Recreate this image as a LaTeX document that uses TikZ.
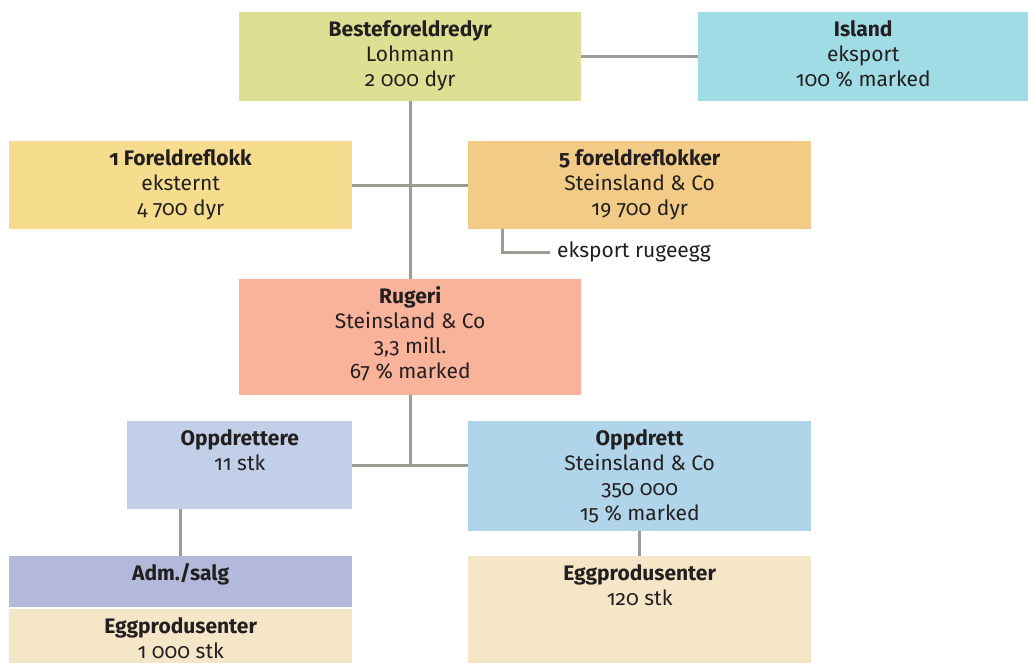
\documentclass[tikz,border=0pt]{standalone}
\usepackage{fontspec}
\setmainfont[RawFeature=+onum]{Fira Sans}
\usetikzlibrary{positioning}
\definecolor{ink}{HTML}{231F20}
\definecolor{linegray}{HTML}{9C9C94}
\definecolor{cbeste}{HTML}{DDE093}
\definecolor{cisland}{HTML}{A0DCE5}
\definecolor{cflokka}{HTML}{F5DD8D}
\definecolor{cflokkb}{HTML}{F2CB87}
\definecolor{crugeri}{HTML}{F9B39A}
\definecolor{coppdr}{HTML}{C1CFE8}
\definecolor{coppdrett}{HTML}{B0D5EA}
\definecolor{cadm}{HTML}{B3B9DA}
\definecolor{cegg}{HTML}{F6E6C8}

\begin{document}
\begin{tikzpicture}[x=1pt,y=-1pt,
    box/.style={draw=none,inner sep=0pt,anchor=north west},
    txt/.style={font=\fontsize{21}{25}\selectfont,text=ink,align=center,inner sep=0pt,anchor=north},
    link/.style={draw=linegray,line width=3pt}]
  \useasboundingbox (0,0) rectangle (1028,663);
  \node[box,fill=cbeste,minimum width=342pt,minimum height=89pt] (beste) at (239,12) {};
  \node[box,fill=cisland,minimum width=330pt,minimum height=89pt] (island) at (698,12) {};
  \node[box,fill=cflokka,minimum width=343pt,minimum height=88pt] (flokka) at (9,141) {};
  \node[box,fill=cflokkb,minimum width=343pt,minimum height=88pt] (flokkb) at (468,141) {};
  \node[box,fill=crugeri,minimum width=342pt,minimum height=116pt] (rugeri) at (239,279) {};
  \node[box,fill=coppdr,minimum width=225pt,minimum height=88pt] (oppdr) at (127,421) {};
  \node[box,fill=coppdrett,minimum width=343pt,minimum height=110pt] (oppdrett) at (468,421) {};
  \node[box,fill=cadm,minimum width=343pt,minimum height=51pt] (adm) at (9,556) {};
  \node[box,fill=cegg,minimum width=343pt,minimum height=60pt] (egga) at (9,609) {};
  \node[box,fill=cegg,minimum width=343pt,minimum height=110pt] (eggb) at (468,556) {};

  \node[txt] (beste-t) at ([yshift=-6.5pt]beste.north) {\strut\textbf{Besteforeldredyr}\\Lohmann\\2 000 dyr};
  \node[txt] (island-t) at ([yshift=-6.5pt]island.north) {\strut\textbf{Island}\\eksport\\100 \% marked};
  \node[txt] (flokka-t) at ([yshift=-6.5pt]flokka.north) {\strut\textbf{1 Foreldreflokk}\\eksternt\\4 700 dyr};
  \node[txt] (flokkb-t) at ([yshift=-6.5pt]flokkb.north) {\strut\textbf{5 foreldreflokker}\\Steinsland \& Co\\19 700 dyr};
  \node[txt] (rugeri-t) at ([yshift=-6.5pt]rugeri.north) {\strut\textbf{Rugeri}\\Steinsland \& Co\\3,3 mill.\\67 \% marked};
  \node[txt] (oppdr-t) at ([yshift=-6.5pt]oppdr.north) {\strut\textbf{Oppdrettere}\\11 stk};
  \node[txt] (oppdrett-t) at ([yshift=-6.5pt]oppdrett.north) {\strut\textbf{Oppdrett}\\Steinsland \& Co\\350 000\\15 \% marked};
  \node[txt] (adm-t) at ([yshift=-6.5pt]adm.north) {\strut\textbf{Adm./salg}};
  \node[txt] (egga-t) at ([yshift=-6.5pt]egga.north) {\strut\textbf{Eggprodusenter}\\1 000 stk};
  \node[txt] (eggb-t) at ([yshift=-6.5pt]eggb.north) {\strut\textbf{Eggprodusenter}\\120 stk};
  \node[txt,anchor=base west] (eksport) at (557,258) {eksport rugeegg};

  \draw[link] (beste.east) -- (island.west);
  \draw[link] (beste.south) -- (rugeri.north);
  \draw[link] (flokka.east) -- (flokkb.west);
  \draw[link] (rugeri.south) -- (rugeri.south |- oppdr.east);
  \draw[link] (oppdr.east) -- (oppdr.east -| oppdrett.west);
  \draw[link] (adm.north) -- (adm.north |- oppdr.south);
  \draw[link] (oppdrett.south) -- (eggb.north);
  \draw[link] ([xshift=-7pt]eksport.west) -| ([xshift=34pt]flokkb.south west);
\end{tikzpicture}
\end{document}
